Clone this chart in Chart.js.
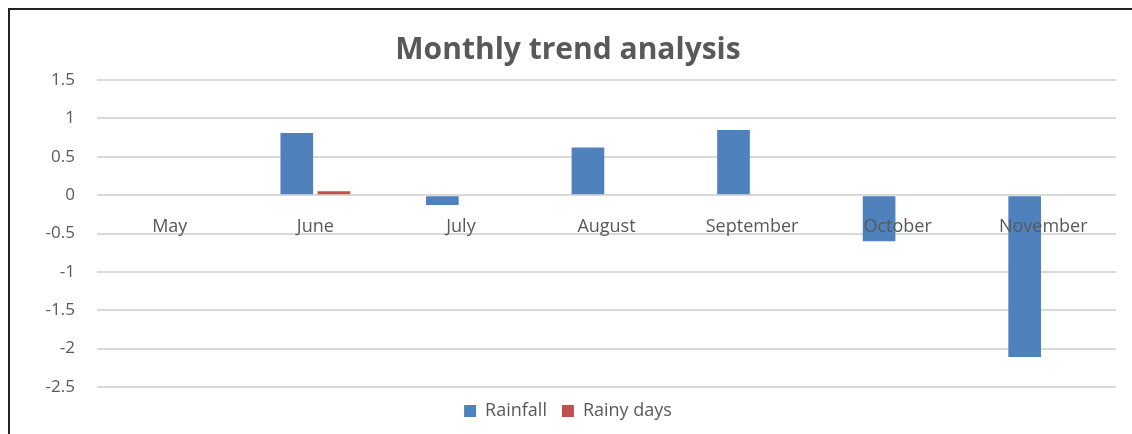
<!DOCTYPE html>
<html>
<head>
<meta charset="utf-8">
<script src="https://cdn.jsdelivr.net/npm/chart.js@4/dist/chart.umd.min.js"></script>
<style>
  html, body { margin: 0; padding: 0; background: #fff; }
  #wrap { position: relative; width: 1132px; height: 434px; }
  #frame { position: absolute; left: 8px; top: 8px; right: 0; bottom: 0;
           border-left: 2px solid #222; border-top: 2px solid #222; pointer-events: none; }
  canvas { position: absolute; left: 0; top: 0; }
</style>
</head>
<body>
<div id="wrap">
  <canvas id="c" width="1132" height="434"></canvas>
  <div id="frame"></div>
</div>
<script>
const categories = ["May", "June", "July", "August", "September", "October", "November"];
const rainfall   = [0, 0.81, -0.13, 0.62, 0.85, -0.60, -2.11];
const rainyDays  = [0, 0.05, 0, 0, 0, 0, 0];
const seriesNames = ["Rainfall", "Rainy days"];
const yMin = -2.5, yMax = 1.5, yStep = 0.5;

const FONT = "'Open Sans', 'DejaVu Sans', sans-serif";
const GRAY = '#595959';

new Chart(document.getElementById('c'), {
  type: 'bar',
  data: {
    labels: categories,
    datasets: [
      { label: seriesNames[0], data: rainfall, backgroundColor: '#4F81BD', borderWidth: 0 },
      { label: seriesNames[1], data: rainyDays, backgroundColor: '#C0504D', borderWidth: 0 }
    ]
  },
  options: {
    responsive: false,
    animation: false,
    devicePixelRatio: 1,
    layout: { padding: { left: 20, right: 16, top: 18, bottom: 4 } },
    datasets: { bar: { categoryPercentage: 0.51, barPercentage: 0.88 } },
    plugins: {
      title: {
        display: true,
        text: 'Monthly trend analysis',
        color: GRAY,
        font: { family: FONT, size: 30, weight: 'bold' },
        padding: { top: 14, bottom: 12 }
      },
      legend: {
        position: 'bottom',
        labels: {
          color: GRAY,
          font: { family: FONT, size: 18 },
          boxWidth: 12, boxHeight: 12,
          padding: 15
        }
      },
      tooltip: { enabled: false }
    },
    scales: {
      x: {
        position: { y: 0 },
        grid: { display: false },
        border: { display: false },
        ticks: { z: 1, color: GRAY, font: { family: FONT, size: 18 }, padding: 13, maxRotation: 0, autoSkip: false }
      },
      y: {
        min: yMin, max: yMax,
        grid: { color: '#D9D9D9', lineWidth: 2, drawTicks: false },
        border: { display: false },
        ticks: { stepSize: yStep, color: GRAY, font: { family: FONT, size: 17 }, padding: 22,
                 callback: (v) => String(Number(v)) },
        afterFit: (s) => { s.width = 77; }
      }
    }
  }
});
</script>
</body>
</html>
